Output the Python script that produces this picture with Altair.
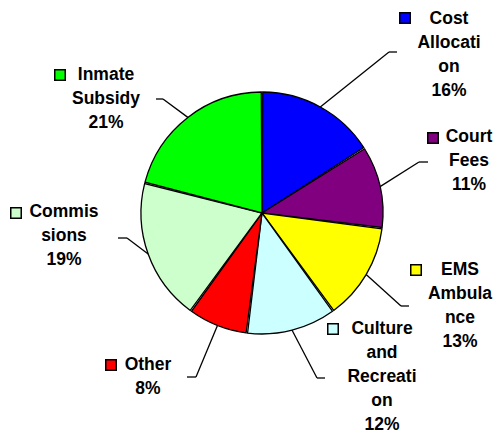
import altair as alt
import pandas as pd
import numpy as np

# ---- data ----
categories = ["Cost Allocation", "Court Fees", "EMS Ambulance", "Culture and Recreation",
              "Other", "Commissions", "Inmate Subsidy"]
values = [16, 11, 13, 12, 8, 19, 21]
wrapped_names = [["Cost", "Allocati", "on"], ["Court", "Fees"], ["EMS", "Ambula", "nce"],
                 ["Culture", "and", "Recreati", "on"], ["Other"], ["Commis", "sions"],
                 ["Inmate", "Subsidy"]]
colors = ["#0000FF", "#800080", "#FFFF00", "#CCFFFF", "#FF0000", "#CCFFCC", "#00FF00"]

# ---- layout (page pixel coordinates) ----
W, H = 485, 426
CX, CY, R = 262, 213, 121
label_x = [449, 469, 460, 382, 148, 64, 106]
label_y = [19, 137, 270, 329, 365, 212, 75]
key_x = [405, 433, 416, 333, 111, 16, 60]
key_y = [18, 138, 270, 329, 365, 213, 75]
elbow_x = [389, 419, 401, 317, 196, 127, 163]
elbow_y = [52, 162, 306, 378, 377, 238, 99]
end_x = [397, 428, 409, 325, 187, 118, 156]
LINE_H = 24

pie_df = pd.DataFrame({"category": categories, "value": values, "idx": range(len(values))})

total = sum(values)
cum = np.cumsum([0] + values[:-1])
mid_frac = (cum + np.array(values) / 2) / total
ang = mid_frac * 2 * np.pi
start_x = CX + R * np.sin(ang)
start_y = CY - R * np.cos(ang)

seg_rows = []
for i in range(len(categories)):
    seg_rows.append({"x1": start_x[i], "y1": start_y[i], "x2": elbow_x[i], "y2": elbow_y[i]})
    seg_rows.append({"x1": elbow_x[i], "y1": elbow_y[i], "x2": end_x[i], "y2": elbow_y[i]})
seg_df = pd.DataFrame(seg_rows)

text_rows = []
for i, c in enumerate(categories):
    lines = wrapped_names[i] + [f"{values[i]}%"]
    for j, t in enumerate(lines):
        text_rows.append({"x": label_x[i], "y": label_y[i] + j * LINE_H, "t": t})
text_df = pd.DataFrame(text_rows)

key_df = pd.DataFrame({"category": categories, "x": key_x, "y": key_y})

xs = alt.Scale(domain=[8, 8 + W], range=[0, W])
ys = alt.Scale(domain=[8, 8 + H], range=[0, H])
fill_scale = alt.Scale(domain=categories, range=colors)

pie = alt.Chart(pie_df).mark_arc(outerRadius=R, stroke="black", strokeWidth=1.3, padAngle=0.012).encode(
    theta=alt.Theta("value:Q", stack=True),
    fill=alt.Fill("category:N", scale=fill_scale, legend=None),
    order=alt.Order("idx:Q"),
    x=alt.value(CX - 8),
    y=alt.value(CY - 8),
)

leaders = alt.Chart(seg_df).mark_rule(color="black", strokeWidth=1.3).encode(
    x=alt.X("x1:Q", scale=xs, axis=None),
    y=alt.Y("y1:Q", scale=ys, axis=None),
    x2="x2:Q",
    y2="y2:Q",
)

labels = alt.Chart(text_df).mark_text(font="Liberation Sans", fontWeight="bold", fontSize=17.5,
                                      align="center", baseline="middle", color="black").encode(
    x=alt.X("x:Q", scale=xs, axis=None),
    y=alt.Y("y:Q", scale=ys, axis=None),
    text="t:N",
)

keys = alt.Chart(key_df).mark_square(size=110, filled=True, stroke="black", strokeWidth=1.5, opacity=1).encode(
    x=alt.X("x:Q", scale=xs, axis=None),
    y=alt.Y("y:Q", scale=ys, axis=None),
    fill=alt.Fill("category:N", scale=fill_scale, legend=None),
)

chart = alt.layer(pie, leaders, labels, keys).properties(
    width=W, height=H, padding=0, autosize="none", background="white"
).configure_view(stroke=None)

chart.save("out.html", embed_options={"renderer": "svg", "actions": False})
